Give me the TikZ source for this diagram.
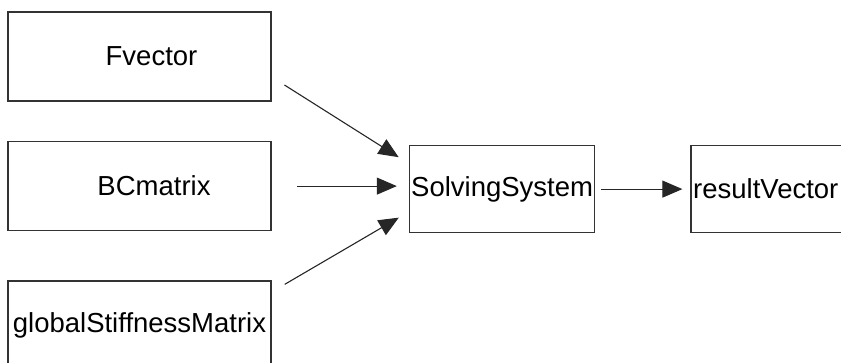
\documentclass[tikz,border=0pt]{standalone}
\usepackage{fontspec}
\setmainfont{Liberation Sans}
\usetikzlibrary{positioning,arrows.meta}
\tikzset{blocknode/.style={shape=rectangle, draw=black!80, line width=1.6pt, minimum width=263pt, minimum height=89pt, inner sep=0pt, font=\fontsize{27.5}{30}\selectfont}}
\tikzset{procnode/.style={shape=rectangle, draw=black!80, line width=1.6pt, minimum width=185pt, minimum height=87pt, inner sep=0pt, font=\fontsize{27.5}{30}\selectfont}}
\tikzset{outnode/.style={procnode, minimum width=0pt, text width=170pt, align=left, inner xsep=2pt}}
\tikzset{flowarrow/.style={draw=black!85, line width=1.1pt, -{Triangle[length=20pt,width=17pt]}}}
\begin{document}
\begin{tikzpicture}[x=1pt,y=-1pt]
\path[use as bounding box, clip] (0,0) rectangle (841,362);
%Nodes
\node[blocknode] (fvec)                              at (139.5,56.5) {\hspace*{24pt}Fvector};
\node[blocknode] (bcmat)    [below=39pt of fvec]     {\hspace*{29pt}BCmatrix};
\node[blocknode] (stiff)    [below=49pt of bcmat]    {globalStiffnessMatrix};
\node[procnode]  (solve)    [right=137pt of bcmat, yshift=-3pt] {SolvingSystem};
\node[outnode]   (result)   [right=95pt of solve]    {resultVector};
%Lines
\draw[flowarrow, shorten <=15pt, shorten >=12pt] ([yshift=-20.5pt]fvec.east) -- ([yshift=25.5pt]solve.west);
\draw[flowarrow, shorten <=25pt, shorten >=12pt] (bcmat.east) -- (bcmat.east -| solve.west);
\draw[flowarrow, shorten <=15pt, shorten >=11.6pt] ([yshift=-11.5pt]stiff.north east) -- ([yshift=-22.7pt]solve.west);
\draw[flowarrow, shorten <=6pt, shorten >=8pt] (solve.east) -- (result.west);
\end{tikzpicture}
\end{document}
